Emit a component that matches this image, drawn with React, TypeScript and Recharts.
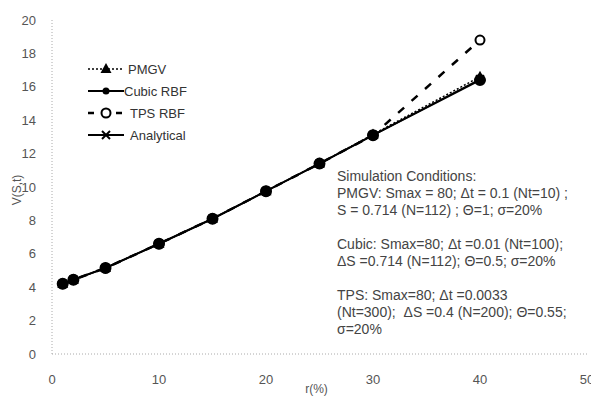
import { LineChart, Line, XAxis, YAxis, Label } from 'recharts';

// r (%) values where each method was evaluated
const rates = [1, 2, 5, 10, 15, 20, 25, 30, 40];

// option value V(S,t) per method
const pmgv = [4.2, 4.45, 5.15, 6.6, 8.1, 9.75, 11.4, 13.15, 16.6];
const cubicRbf = [4.2, 4.45, 5.15, 6.6, 8.1, 9.75, 11.4, 13.1, 16.4];
const tpsRbf = [4.2, 4.45, 5.15, 6.6, 8.1, 9.75, 11.4, 13.1, 18.8];
const analytical = [4.2, 4.45, 5.15, 6.6, 8.1, 9.75, 11.4, 13.1, 16.45];

const xTicks = [0, 10, 20, 30, 40, 50];
const yTicks = [0, 2, 4, 6, 8, 10, 12, 14, 16, 18, 20];

const notes = [
  'Simulation Conditions:',
  'PMGV: Smax = 80; \u0394t = 0.1 (Nt=10) ;',
  'S = 0.714 (N=112) ; \u0398=1; \u03c3=20%',
  '',
  'Cubic: Smax=80; \u0394t =0.01 (Nt=100);',
  '\u0394S =0.714 (N=112); \u0398=0.5; \u03c3=20%',
  '',
  'TPS: Smax=80; \u0394t =0.0033',
  '(Nt=300);  \u0394S =0.4 (N=200); \u0398=0.55;',
  '\u03c3=20%',
];

const data = rates.map((r, i) => ({
  r,
  pmgv: pmgv[i],
  cubic: cubicRbf[i],
  tps: tpsRbf[i],
  analytical: analytical[i],
}));

const font = '"Liberation Sans", Arial, sans-serif';

const TriangleDot = (props: any) => {
  const { cx, cy } = props;
  if (cx == null || cy == null) return null;
  return <path d={`M${cx},${cy - 6} L${cx + 5.5},${cy + 4} L${cx - 5.5},${cy + 4} Z`} fill="#000" />;
};

const CrossDot = (props: any) => {
  const { cx, cy } = props;
  if (cx == null || cy == null) return null;
  return (
    <g stroke="#000" strokeWidth={2}>
      <line x1={cx - 4} y1={cy - 4} x2={cx + 4} y2={cy + 4} />
      <line x1={cx - 4} y1={cy + 4} x2={cx + 4} y2={cy - 4} />
    </g>
  );
};

const legendRows = [
  { name: 'PMGV', dash: '2 2', width: 1.5, marker: 'triangle', textX: 42 },
  { name: 'Cubic RBF', dash: undefined, width: 2, marker: 'dot', textX: 38 },
  { name: 'TPS RBF', dash: '6 8', width: 2.5, marker: 'circle', textX: 44 },
  { name: 'Analytical', dash: undefined, width: 2, marker: 'cross', textX: 44 },
];

// legend drawn inside the plot area, upper left
const LegendBox = () => (
  <svg width={140} height={96} style={{ position: 'absolute', left: 78, top: 51 }}>
    {legendRows.map((row, i) => {
      const y = 10 + i * 22;
      const cx = 20;
      return (
        <g key={row.name}>
          <line x1={2} x2={38} y1={y} y2={y} stroke="#000" strokeWidth={row.width} strokeDasharray={row.dash} />
          {row.marker === 'triangle' && <TriangleDot cx={cx} cy={y} />}
          {row.marker === 'dot' && <circle cx={cx} cy={y} r={3.5} fill="#000" />}
          {row.marker === 'circle' && <circle cx={cx} cy={y} r={4.5} fill="#fff" stroke="#000" strokeWidth={2} />}
          {row.marker === 'cross' && <CrossDot cx={cx} cy={y} />}
          <text x={row.textX} y={y + 5} fontSize={13} fill="#333" fontFamily={font}>
            {row.name}
          </text>
        </g>
      );
    })}
  </svg>
);

export default function App() {
  return (
    <div style={{ position: 'relative', width: 590, height: 388, fontFamily: font }}>
      <LineChart width={590} height={388} data={data} margin={{ top: 12, right: 11, left: 0, bottom: 0 }}>
        <XAxis
          dataKey="r"
          type="number"
          domain={[0, 50]}
          ticks={xTicks}
          tickLine={false}
          tickMargin={15}
          height={42}
          axisLine={{ stroke: '#aaa', strokeDasharray: '1 2' }}
          tick={{ fontSize: 13, fill: '#555', fontFamily: font }}
        >
          <Label value="r(%)" position="insideBottom" offset={3} dx={-3} style={{ fontSize: 12, fill: '#555', fontFamily: font }} />
        </XAxis>
        <YAxis
          type="number"
          domain={[0, 20]}
          ticks={yTicks}
          tickLine={false}
          tickMargin={10}
          width={44}
          axisLine={{ stroke: '#aaa', strokeDasharray: '1 2' }}
          tick={{ fontSize: 13, fill: '#555', fontFamily: font }}
        >
          <Label value="V(S,t)" angle={-90} position="insideLeft" offset={9} dy={3} style={{ fontSize: 12, fill: '#555', fontFamily: font, textAnchor: 'middle' }} />
        </YAxis>
        <Line
          dataKey="tps"
          name="TPS RBF"
          stroke="#000"
          strokeWidth={2.5}
          strokeDasharray="8 10"
          dot={{ r: 4.5, fill: '#fff', stroke: '#000', strokeWidth: 2, strokeDasharray: '0' }}
          isAnimationActive={false}
        />
        <Line
          dataKey="pmgv"
          name="PMGV"
          stroke="#000"
          strokeWidth={1.5}
          strokeDasharray="2 2"
          dot={<TriangleDot />}
          isAnimationActive={false}
        />
        <Line
          dataKey="analytical"
          name="Analytical"
          stroke="#000"
          strokeWidth={1.5}
          dot={<CrossDot />}
          isAnimationActive={false}
        />
        <Line
          dataKey="cubic"
          name="Cubic RBF"
          stroke="#000"
          strokeWidth={2}
          dot={{ r: 5, fill: '#000', stroke: '#000' }}
          isAnimationActive={false}
        />
      </LineChart>
      <LegendBox />
      <div
        style={{
          position: 'absolute',
          left: 329,
          top: 160,
          fontSize: 14,
          lineHeight: '17px',
          color: '#444',
          whiteSpace: 'pre',
        }}
      >
        {notes.map((line, i) => (
          <div key={i} style={{ height: 17 }}>{line}</div>
        ))}
      </div>
    </div>
  );
}
